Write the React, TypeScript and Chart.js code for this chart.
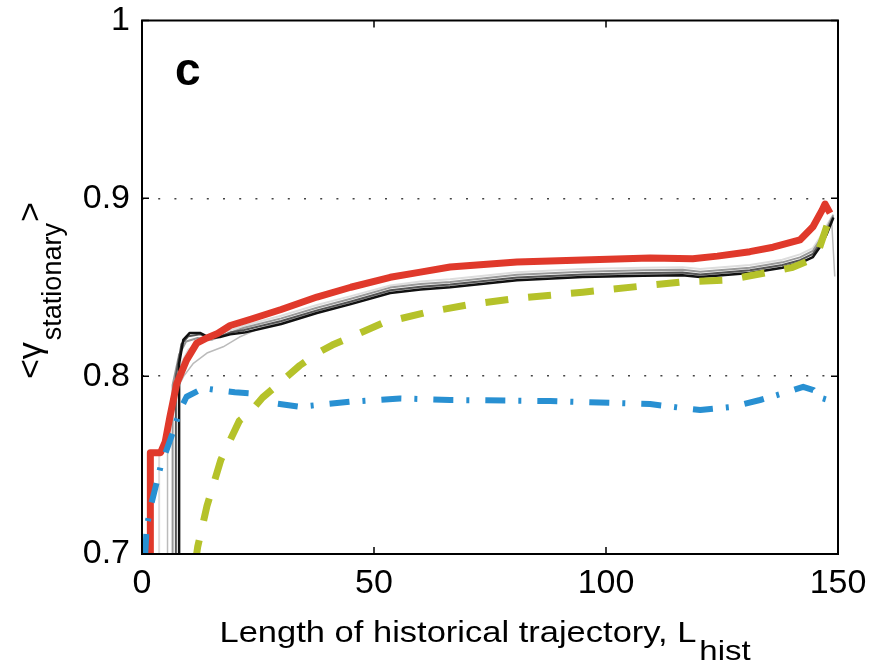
import React, { useEffect, useRef } from 'react';
import { Chart, registerables } from 'chart.js';

Chart.register(...registerables);

const FONT = '"Liberation Sans", Arial, Helvetica, sans-serif';

const X_TICKS = [0, 50, 100, 150];
const Y_TICKS = [0.7, 0.8, 0.9, 1];
const X_TITLE = 'Length of historical trajectory, L';
const X_TITLE_SUB = 'hist';
const Y_TITLE_MAIN = 'γ';
const Y_TITLE_SUB = 'stationary';
const PANEL_LABEL = 'c';

// Red thick line
const redX = [1.8, 1.8, 4, 5, 6, 7.5, 9.6, 11.8, 14, 16.3, 19, 23.4, 30, 37.7, 45, 53.5, 60, 66.4, 80.8, 95, 109.5, 118.7, 124, 131, 136, 141.8, 144.6, 146.6, 147.2, 148.3];
const redY = [0.69, 0.757, 0.757, 0.763, 0.777, 0.796, 0.809, 0.8186, 0.8215, 0.824, 0.8285, 0.832, 0.8375, 0.8445, 0.85, 0.8556, 0.8585, 0.8614, 0.8642, 0.8653, 0.8665, 0.866, 0.8675, 0.87, 0.8725, 0.8766, 0.884, 0.8935, 0.8968, 0.8917];

// Black line
const blackX = [8, 8, 8.9, 10.3, 12.5, 14.7, 16.8, 19, 22, 30, 37.7, 45, 53.5, 60, 66.4, 80.8, 95, 108, 116.5, 120.3, 131, 138, 141.8, 144.6, 146.1, 147.6, 149];
const blackY = [0.69, 0.807, 0.8204, 0.8243, 0.8243, 0.8214, 0.822, 0.8235, 0.8245, 0.8293, 0.8355, 0.8405, 0.8468, 0.8488, 0.85, 0.854, 0.8557, 0.8565, 0.8568, 0.8557, 0.858, 0.861, 0.8636, 0.867, 0.8726, 0.88, 0.889];

// Gray lines
const grayDarkX = [7.3, 7.3, 8.5, 10, 12.5, 15, 17, 19, 22, 30, 37.7, 45, 53.5, 60, 66.4, 80.8, 95, 108, 116.5, 120.3, 131, 138, 141.8, 144.6, 146.1, 147.6, 149];
const grayDarkY = [0.69, 0.8, 0.818, 0.8225, 0.8235, 0.8215, 0.8225, 0.8245, 0.826, 0.831, 0.837, 0.842, 0.8483, 0.8503, 0.8515, 0.8555, 0.8572, 0.858, 0.8583, 0.8572, 0.8595, 0.8625, 0.8652, 0.8688, 0.8745, 0.8815, 0.8895];

const grayMidX = [6.6, 6.6, 8, 9.5, 12, 15, 18, 22, 30, 37.7, 45, 53.5, 60, 66.4, 80.8, 95, 108, 116.5, 120.3, 131, 138, 141.8, 144.6, 146.1, 147.6, 149];
const grayMidY = [0.69, 0.795, 0.812, 0.8195, 0.8215, 0.8205, 0.8235, 0.8272, 0.8325, 0.8385, 0.8435, 0.8498, 0.8518, 0.853, 0.857, 0.8587, 0.8595, 0.8598, 0.8587, 0.861, 0.864, 0.8668, 0.8705, 0.8765, 0.8835, 0.8905];

const grayLightX = [5.5, 5.5, 7, 9, 11, 14, 17.5, 21, 25, 30, 37.7, 45, 53.5, 60, 66.4, 80.8, 95, 108, 116.5, 120.3, 131, 138, 141.8, 144.6, 146.1, 147.6, 148.6, 149.3];
const grayLightY = [0.69, 0.775, 0.79, 0.8, 0.807, 0.813, 0.8165, 0.822, 0.8265, 0.8305, 0.8365, 0.8415, 0.848, 0.85, 0.8512, 0.8552, 0.857, 0.8578, 0.858, 0.857, 0.8593, 0.8623, 0.865, 0.8686, 0.8745, 0.8825, 0.889, 0.856];

const grayFaintX = [3.7, 3.7, 5, 6.5, 8, 10, 13, 17, 22, 30, 37.7, 45, 53.5, 60, 66.4, 80.8, 95, 108, 116.5, 120.3, 131, 138, 141.8, 144.6, 146.1, 147.6, 149];
const grayFaintY = [0.69, 0.758, 0.762, 0.785, 0.805, 0.815, 0.82, 0.824, 0.8285, 0.834, 0.84, 0.845, 0.851, 0.8532, 0.8545, 0.8585, 0.8602, 0.861, 0.8612, 0.8602, 0.8625, 0.8655, 0.8685, 0.872, 0.878, 0.885, 0.891];

// Green dashed line
const greenX = [11.5, 12, 14, 17, 21, 23.4, 26, 30.5, 34, 37.8, 41, 45, 52, 61.5, 70, 80.8, 95, 109, 116.5, 126, 135, 140, 143.8, 146, 148, 149];
const greenY = [0.695, 0.704, 0.727, 0.753, 0.775, 0.78, 0.788, 0.798, 0.806, 0.813, 0.8175, 0.822, 0.83, 0.836, 0.84, 0.8438, 0.8472, 0.851, 0.853, 0.854, 0.8584, 0.861, 0.865, 0.872, 0.8876, 0.8916];

// Blue dash-dot line
const blueX = [0.7, 1, 2, 4, 7, 8.2, 9.6, 13.2, 16.1, 20, 23.3, 26.1, 34, 44.8, 55.6, 66.4, 88, 109.5, 116.7, 120.3, 127.4, 133.2, 138.2, 142.5, 144.7, 146.1, 147.9, 148.7];
const blueY = [0.7, 0.715, 0.728, 0.749, 0.771, 0.781, 0.7884, 0.7932, 0.7922, 0.791, 0.7904, 0.7856, 0.7828, 0.7856, 0.7875, 0.7866, 0.786, 0.7843, 0.782, 0.781, 0.7828, 0.7866, 0.7904, 0.794, 0.7922, 0.788, 0.7866, 0.7875];

const pts = (xs: number[], ys: number[]) => xs.map((x, i) => ({ x, y: ys[i] }));

const framePlugin = {
  id: 'frameAndTitles',
  afterDraw(chart: any) {
    const { ctx, chartArea } = chart;
    const { left, right, top, bottom } = chartArea;
    const xs = chart.scales.x;
    const ys = chart.scales.y;
    ctx.save();
    ctx.strokeStyle = '#000';
    ctx.lineWidth = 2;
    ctx.setLineDash([]);
    ctx.strokeRect(left, top, right - left, bottom - top);
    ctx.lineWidth = 1.5;
    ctx.beginPath();
    X_TICKS.forEach((v) => {
      const px = xs.getPixelForValue(v);
      ctx.moveTo(px, bottom);
      ctx.lineTo(px, bottom - 7);
      ctx.moveTo(px, top);
      ctx.lineTo(px, top + 7);
    });
    Y_TICKS.forEach((v) => {
      const py = ys.getPixelForValue(v);
      ctx.moveTo(left, py);
      ctx.lineTo(left + 7, py);
      ctx.moveTo(right, py);
      ctx.lineTo(right - 7, py);
    });
    ctx.stroke();

    ctx.fillStyle = '#000';
    ctx.textAlign = 'left';
    ctx.textBaseline = 'alphabetic';
    // panel label
    ctx.font = `bold 46px ${FONT}`;
    ctx.fillText(PANEL_LABEL, 175, 85);

    // x title
    ctx.save();
    ctx.translate(219.5, 642);
    ctx.scale(1, 0.85);
    ctx.font = `34.5px ${FONT}`;
    ctx.fillText(X_TITLE, 0, 0);
    const w = ctx.measureText(X_TITLE).width;
    ctx.font = `33px ${FONT}`;
    ctx.fillText(X_TITLE_SUB, w + 3, 18 / 0.85);
    ctx.restore();

    // y title
    ctx.save();
    ctx.translate(41, 379);
    ctx.rotate(-Math.PI / 2);
    ctx.font = `34px ${FONT}`;
    ctx.fillText('<', 0, 0);
    let p = ctx.measureText('<').width;
    ctx.fillText(Y_TITLE_MAIN, p, 0);
    p += ctx.measureText(Y_TITLE_MAIN).width;
    ctx.font = `27px ${FONT}`;
    ctx.fillText(Y_TITLE_SUB, p + 2, 20);
    p += ctx.measureText(Y_TITLE_SUB).width + 2;
    ctx.font = `34px ${FONT}`;
    ctx.fillText('>', p + 1, 0);
    ctx.restore();

    ctx.restore();
  },
};

export default function App() {
  const ref = useRef<HTMLCanvasElement | null>(null);
  useEffect(() => {
    if (!ref.current) return;
    const tickFont = { family: FONT, size: 34 };
    const chart = new Chart(ref.current, {
      type: 'line',
      data: {
        datasets: [
          { data: pts(greenX, greenY), borderColor: '#b5c22a', borderWidth: 7, borderDash: [23, 20], borderCapStyle: 'butt', clip: 0 },
          { data: pts(blueX, blueY), borderColor: '#2890d2', borderWidth: 6, borderDash: [20, 13, 3, 16], borderCapStyle: 'butt', clip: 0 },
          { data: pts(redX, redY), borderColor: '#e0392b', borderWidth: 7, clip: 0 },
          { data: pts(blackX, blackY), borderColor: '#111111', borderWidth: 2.5, clip: 0 },
          { data: pts(grayDarkX, grayDarkY), borderColor: '#555555', borderWidth: 2, clip: 0 },
          { data: pts(grayMidX, grayMidY), borderColor: '#999999', borderWidth: 2, clip: 0 },
          { data: pts(grayLightX, grayLightY), borderColor: '#bbbbbb', borderWidth: 1.5, clip: 0 },
          { data: pts(grayFaintX, grayFaintY), borderColor: '#dddddd', borderWidth: 2, clip: 0 },
        ] as any,
      },
      options: {
        animation: false,
        responsive: false,
        maintainAspectRatio: false,
        events: [],
        layout: { padding: { top: 20.5, right: 52, left: 0, bottom: 0 } },
        elements: { point: { radius: 0 }, line: { tension: 0, borderJoinStyle: 'round' } },
        plugins: { legend: { display: false }, tooltip: { enabled: false }, title: { display: false } },
        scales: {
          x: {
            type: 'linear',
            min: 0,
            max: 150,
            afterFit: (s: any) => { s.height = 110; s.paddingLeft = 0; s.paddingRight = 0; },
            afterBuildTicks: (s: any) => { s.ticks = X_TICKS.map((v) => ({ value: v })); },
            ticks: { font: tickFont, color: '#000', padding: 9, maxRotation: 0, autoSkip: false, callback: (v: any) => String(v) },
            grid: { display: false, drawTicks: false },
            border: { display: false },
          },
          y: {
            type: 'linear',
            min: 0.7,
            max: 1,
            afterFit: (s: any) => { s.width = 142; s.paddingTop = 0; s.paddingBottom = 0; },
            afterBuildTicks: (s: any) => { s.ticks = Y_TICKS.map((v) => ({ value: v })); },
            ticks: { font: tickFont, color: '#000', padding: 12, autoSkip: false, callback: (v: any) => (Math.abs(v - 1) < 1e-9 ? '1' : Number(v).toFixed(1)) },
            grid: {
              drawTicks: false,
              lineWidth: 1.5,
              color: (c: any) => {
                const v = c.tick ? c.tick.value : 0;
                return Math.abs(v - 0.8) < 1e-6 || Math.abs(v - 0.9) < 1e-6 ? '#444444' : 'rgba(0,0,0,0)';
              },
            },
            border: { display: false, dash: [2, 14.2] },
          },
        },
      } as any,
      plugins: [framePlugin],
    });
    return () => chart.destroy();
  }, []);
  return (
    <div style={{ position: 'fixed', left: 0, top: 0, width: 890, height: 664, background: '#fff' }}>
      <canvas ref={ref} width={890} height={664} style={{ display: 'block' }} />
    </div>
  );
}
